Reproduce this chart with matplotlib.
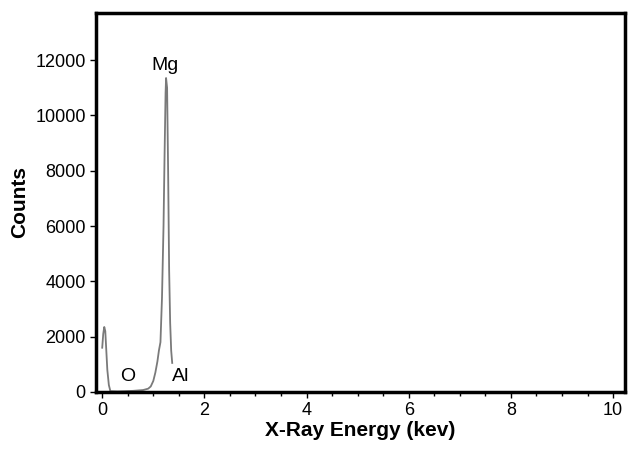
import matplotlib
matplotlib.use("Agg")
import matplotlib.pyplot as plt
from matplotlib.ticker import MultipleLocator

# EDS spectrum, counts vs x-ray energy
energy = [0.0, 0.02, 0.04, 0.06, 0.08, 0.10, 0.13, 0.16, 0.30, 0.60, 0.80, 0.90, 0.95, 1.00,
          1.04, 1.08, 1.11, 1.14, 1.17, 1.20, 1.22, 1.24, 1.25, 1.27, 1.29, 1.31, 1.33, 1.35, 1.37]
counts = [1600, 2100, 2350, 2200, 1500, 800, 250, 30, 20, 40, 70, 120, 200, 400,
          700, 1100, 1500, 1800, 3400, 6000, 8500, 10800, 11350, 11000, 8000, 4400, 2500, 1500, 1050]

peak_labels = ["Mg", "O", "Al"]
peak_x = [1.22, 0.49, 1.53]
peak_y = [11800, 550, 550]

fig = plt.figure(figsize=(6.28, 4.49), dpi=100)
ax = fig.add_axes([0.153, 0.127, 0.842, 0.844])

ax.plot(energy, counts, color="#7a7a7a", lw=1.3)

for lab, x, y in zip(peak_labels, peak_x, peak_y):
    ax.text(x, y, lab, ha="center", va="center", fontsize=14, family="Liberation Sans")

ax.set_xlim(-0.12, 10.23)
ax.set_ylim(0, 13700)
ax.xaxis.set_major_locator(MultipleLocator(2))
ax.xaxis.set_minor_locator(MultipleLocator(0.5))
ax.yaxis.set_major_locator(MultipleLocator(2000))

for s in ax.spines.values():
    s.set_linewidth(2.5)
ax.tick_params(direction="out", length=4, width=1, labelsize=13)
ax.tick_params(which="minor", direction="out", length=3, width=1)
for t in ax.get_xticklabels() + ax.get_yticklabels():
    t.set_family("Liberation Sans")

ax.set_xlabel("X-Ray Energy (kev)", fontsize=15, fontweight="bold", family="Liberation Sans", labelpad=1)
ax.set_ylabel("Counts", fontsize=15, fontweight="bold", family="Liberation Sans", labelpad=4)

fig.savefig("out.png", dpi=100)
